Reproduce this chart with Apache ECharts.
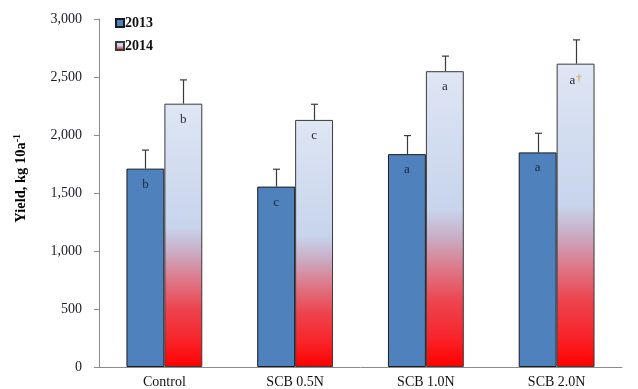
<!DOCTYPE html>
<html>
<head>
<meta charset="utf-8">
<script src="https://cdn.jsdelivr.net/npm/echarts@6/dist/echarts.min.js"></script>
<style>
  html, body { margin: 0; padding: 0; background: #fff; }
  #chart { width: 638px; height: 389px; }
</style>
</head>
<body>
<div id="chart"></div>
<script>
// Treatments and yields (kg 10a^-1) with standard errors
const categories = ['Control', 'SCB 0.5N', 'SCB 1.0N', 'SCB 2.0N'];
const yield2013 = [1710, 1555, 1835, 1850];
const yield2014 = [2270, 2130, 2550, 2615];
const err2013 = [160, 150, 160, 165];
const err2014 = [205, 135, 130, 205];
const letters2013 = ['b', 'c', 'a', 'a'];
const letters2014 = ['b', 'c', 'a', 'a'];
const marks2014 = ['', '', '', '†'];
const yTicks = [0, 500, 1000, 1500, 2000, 2500, 3000];

const serif = '"Liberation Serif", "Times New Roman", serif';
const blue = '#4F81BD';

// 2014 bars fade from pale blue at the top to pure red at the base
const gradient2014 = new echarts.graphic.LinearGradient(0, 0, 0, 1, [
  { offset: 0, color: '#DFE6F4' },
  { offset: 0.47, color: '#C7D4EC' },
  { offset: 0.56, color: '#C9AEC6' },
  { offset: 0.66, color: '#DC7C8D' },
  { offset: 0.78, color: '#EC444E' },
  { offset: 0.9, color: '#F8242A' },
  { offset: 1, color: '#FF0000' }
]);

const labelStyle = {
  show: true,
  position: 'insideTop',
  distance: 9,
  fontFamily: serif,
  fontSize: 13,
  color: '#1E2838'
};

function errorSeries(values, errs, side) {
  return {
    type: 'custom',
    z: 5,
    silent: true,
    data: values.map((v, i) => [i, v, v + errs[i]]),
    renderItem: function (params, api) {
      const i = api.value(0);
      const catW = api.size([1, 0])[0];
      const barW = catW * (1 - 0.42) / 2;
      const base = api.coord([i, api.value(1)]);
      const top = api.coord([i, api.value(2)]);
      const x = Math.round(base[0] + side * barW / 2) + 0.5;
      const cap = 3.5;
      const style = { stroke: '#3a3a3a', lineWidth: 1.2, fill: 'none' };
      return {
        type: 'group',
        children: [
          { type: 'line', shape: { x1: x, y1: base[1], x2: x, y2: top[1] }, style: style },
          { type: 'line', shape: { x1: x - cap, y1: top[1], x2: x + cap, y2: top[1] }, style: style }
        ]
      };
    }
  };
}

const chart = echarts.init(document.getElementById('chart'), null, { renderer: 'canvas' });

chart.setOption({
  animation: false,
  backgroundColor: '#ffffff',
  grid: { left: 99, right: 16, top: 19, bottom: 22, containLabel: false },
  legend: {
    orient: 'vertical',
    left: 110,
    top: 11,
    itemWidth: 8,
    itemHeight: 8,
    itemGap: 9,
    icon: 'rect',
    data: ['2013', '2014'],
    textStyle: { fontFamily: serif, fontWeight: 'bold', fontSize: 14, color: '#111', padding: [0, 0, 0, -4] }
  },
  xAxis: {
    type: 'category',
    data: categories,
    axisLine: { lineStyle: { color: '#8c8c8c', width: 1 } },
    axisTick: { show: false },
    axisLabel: { fontFamily: serif, fontSize: 14, color: '#111', margin: 8 }
  },
  yAxis: {
    type: 'value',
    min: yTicks[0],
    max: yTicks[yTicks.length - 1],
    interval: 500,
    splitLine: { show: false },
    axisLine: { show: true, lineStyle: { color: '#8c8c8c', width: 1 } },
    axisTick: { show: true, length: 5, lineStyle: { color: '#8c8c8c' } },
    axisLabel: {
      fontFamily: serif,
      fontSize: 14,
      color: '#1a1a2a',
      margin: 17,
      formatter: v => v.toLocaleString('en-US')
    }
  },
  series: [
    {
      name: '2013',
      type: 'bar',
      data: yield2013.map((v, i) => ({ value: v, label: { formatter: letters2013[i] } })),
      barGap: '0%',
      barCategoryGap: '42%',
      itemStyle: { color: blue, borderColor: '#1a1a1a', borderWidth: 1 },
      label: labelStyle
    },
    {
      name: '2014',
      type: 'bar',
      data: yield2014.map((v, i) => ({
        value: v,
        label: { formatter: marks2014[i] ? '{l|' + letters2014[i] + '}{m|' + marks2014[i] + '}' : letters2014[i] }
      })),
      barGap: '0%',
      barCategoryGap: '42%',
      itemStyle: { color: gradient2014, borderColor: '#3a3a3a', borderWidth: 1 },
      label: Object.assign({}, labelStyle, {
        rich: {
          l: { fontFamily: serif, fontSize: 13, color: '#1E2838' },
          m: { fontFamily: serif, fontSize: 11, color: '#D9901A', verticalAlign: 'top', padding: [0, 0, 5, 1] }
        }
      })
    },
    errorSeries(yield2013, err2013, -1),
    errorSeries(yield2014, err2014, 1)
  ],
  graphic: [
    {
      type: 'text',
      left: 12,
      top: 134,
      rotation: Math.PI / 2,
      style: {
        text: '{t|Yield, kg 10a}{s|-1}',
        rich: {
          t: { fontFamily: serif, fontWeight: 'bold', fontSize: 14.5, color: '#111' },
          s: { fontFamily: serif, fontWeight: 'bold', fontSize: 10, color: '#111', padding: [0, 0, 8, 0] }
        }
      }
    }
  ]
});
</script>
</body>
</html>
